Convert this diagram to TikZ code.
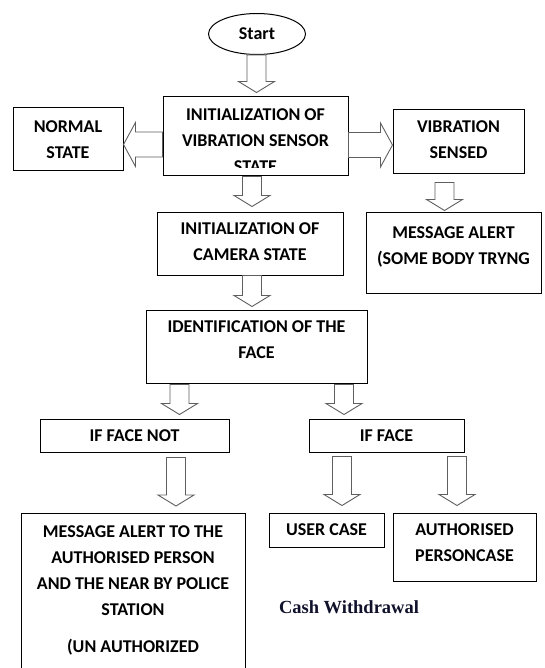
\documentclass[tikz,border=0pt]{standalone}
\usepackage{fontspec}
\usetikzlibrary{calc,shapes.geometric}
\newfontfamily\calfont{Carlito}
\newfontfamily\tmsfont{Liberation Serif}
\definecolor{arrowgray}{RGB}{95,95,95}
\definecolor{cashblue}{RGB}{16,18,44}
\tikzset{
  box/.style={draw=black, line width=1pt, fill=white, rectangle, inner sep=0pt,
    align=center, font=\calfont\bfseries\fontsize{18}{26}\selectfont},
  txt/.style={inner sep=0pt, align=center, font=\calfont\bfseries\fontsize{18}{26}\selectfont},
  fat/.style={draw=arrowgray, fill=white, line width=0.9pt, line join=miter},
}
% vertical fat arrow: #1 x, #2 from anchor, #3 to anchor, #4 top gap, #5 bottom gap
\newcommand\fatdown[5]{%
  \draw[fat] let \p1=(#2), \p2=(#3) in
    ({#1pt-9.5pt},{\y1-#4pt}) -- ({#1pt-9.5pt},{\y2+#5pt+11pt}) --
    ({#1pt-18pt},{\y2+#5pt+11pt}) -- (#1pt,{\y2+#5pt}) --
    ({#1pt+18pt},{\y2+#5pt+11pt}) -- ({#1pt+9.5pt},{\y2+#5pt+11pt}) --
    ({#1pt+9.5pt},{\y1-#4pt}) -- cycle;}
% horizontal fat arrow: #1 y, #2 from anchor, #3 to anchor, #4 direction (1 right, -1 left)
\newcommand\fatside[4]{%
  \draw[fat] let \p1=(#2), \p2=(#3) in
    (\x1,{-#1pt+12.5pt}) -- ({\x2-(#4)*12pt},{-#1pt+12.5pt}) --
    ({\x2-(#4)*12pt},{-#1pt+22pt}) -- (\x2,{-#1pt}) --
    ({\x2-(#4)*12pt},{-#1pt-22pt}) -- ({\x2-(#4)*12pt},{-#1pt-12.5pt}) --
    (\x1,{-#1pt-12.5pt}) -- cycle;}
\begin{document}
\begin{tikzpicture}[x=1pt,y=-1pt]
\useasboundingbox (0,0) rectangle (545,668);
\clip (0,0) rectangle (545,668);
\fill[white] (0,0) rectangle (545,668);

% nodes
\node[box, ellipse, minimum width=97, minimum height=41] (start) at (257,34) {Start};
\node[box, minimum width=185, minimum height=79] (init) at (255.5,136.5) {};
\begin{scope}
  \clip (init.north west) rectangle (348,168);
  \node[txt] (inittxt) at (255.5,140.5) {INITIALIZATION OF\\VIBRATION SENSOR\\STATE};
\end{scope}
\node[box, minimum width=110, minimum height=63] (normal) at (68,139.5) {NORMAL\\STATE};
\node[box, minimum width=131, minimum height=64, text depth=4pt] (vib) at (458.5,142) {VIBRATION\\SENSED};
\node[box, minimum width=175, minimum height=81, text depth=14pt] (msg1) at (453.5,252.5) {MESSAGE ALERT\\(SOME BODY TRYNG};
\node[box, minimum width=186, minimum height=63, text depth=4pt] (camera) at (250,243.5) {INITIALIZATION OF\\CAMERA STATE};
\node[box, minimum width=221, minimum height=73, text depth=13pt] (ident) at (256.5,346.5) {IDENTIFICATION OF THE\\FACE};
\node[box, minimum width=189, minimum height=33] (notface) at (134.5,435.5) {IF FACE NOT};
\node[box, minimum width=155, minimum height=33] (face) at (386.5,435.5) {IF FACE};
\node[box, minimum width=115, minimum height=34] (user) at (326.5,530) {USER CASE};
\node[box, minimum width=143, minimum height=68, text depth=8pt] (auth) at (464.5,547) {AUTHORISED\\PERSONCASE};
\node[box, anchor=north, minimum width=224, inner ysep=12.4pt, text depth=40pt] (msg2) at (133,513)
  {MESSAGE ALERT TO THE\\AUTHORISED PERSON\\AND THE NEAR BY POLICE\\STATION\\[11pt](UN AUTHORIZED};
\node[inner sep=0pt, text=cashblue, font=\tmsfont\bfseries\fontsize{18.5}{22}\selectfont] (cash) at (349,607) {Cash Withdrawal};

% connectors
\fatdown{256.5}{start.south}{init.north}{0}{4}
\fatside{144.5}{init.west}{normal.east}{-1}
\fatside{145}{init.east}{vib.west}{1}
\fatdown{444.5}{vib.south}{msg1.north}{8}{1}
\fatdown{252}{init.south}{camera.north}{0}{5}
\fatdown{252}{camera.south}{ident.north}{0}{3}
\fatdown{179.5}{ident.south}{notface.north}{1}{4}
\fatdown{344}{ident.south}{face.north}{1}{4}
\fatdown{176}{notface.south}{msg2.north}{5}{7}
\fatdown{342}{face.south}{user.north}{4}{7}
\fatdown{457}{face.south}{auth.north}{4}{7}
\end{tikzpicture}
\end{document}
